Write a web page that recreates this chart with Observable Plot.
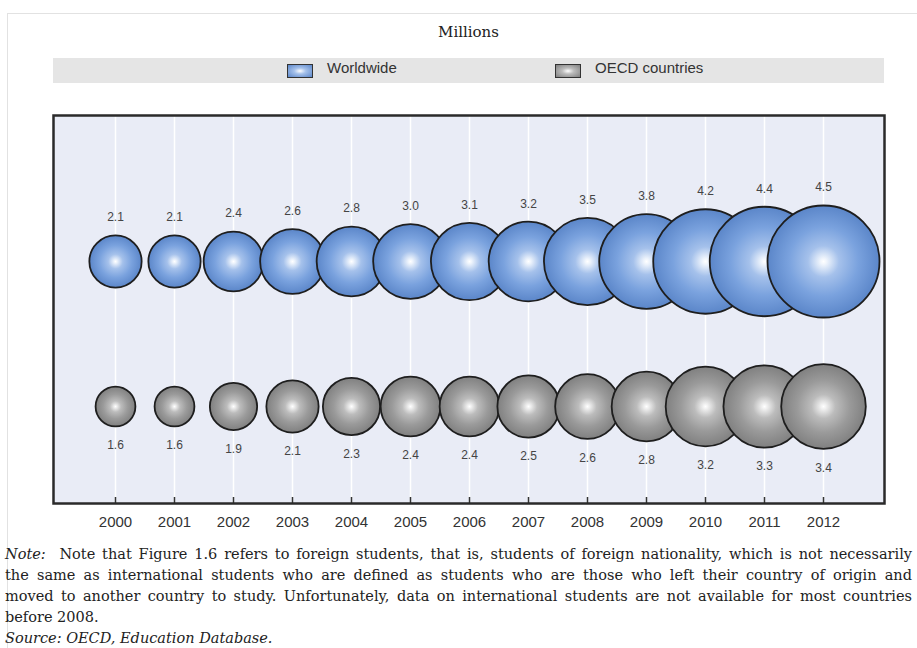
<!DOCTYPE html>
<html>
<head>
<meta charset="utf-8">
<script src="https://cdn.jsdelivr.net/npm/d3@7"></script>
<script src="https://cdn.jsdelivr.net/npm/@observablehq/plot@0.6"></script>
<style>
  html, body { margin: 0; padding: 0; background: #fff; }
  body { width: 917px; height: 648px; overflow: hidden; position: relative; font-family: "Liberation Sans", Arial, sans-serif; }
  #sheet { position: absolute; left: 7px; top: 13px; right: 0; bottom: 0; border-left: 1px solid #e2e2e2; border-top: 1px solid #e2e2e2; }
  #title { position: absolute; left: 53px; width: 831px; top: 23px; text-align: center; font: 15px "DejaVu Serif", serif; color: #222; }
  #legend { position: absolute; left: 53px; width: 831px; top: 58px; height: 25px; background: #e5e5e5; }
  .item { position: absolute; top: 0; height: 25px; display: flex; align-items: center; }
  .sw { width: 24px; height: 12px; border: 1px solid #333; }
  .lab { position: absolute; top: 1px; line-height: 25px; font: 15px "Liberation Sans", sans-serif; color: #333; }
  #chart { position: absolute; left: 0; top: 100px; }
  #note { position: absolute; left: 5px; width: 907px; top: 544px; font: 14.5px/21px "DejaVu Serif", serif; color: #222; white-space: nowrap; }
  #note div.j { text-align: justify; text-align-last: justify; }
  #note i { font-style: italic; }
</style>
</head>
<body>
<div id="sheet"></div>
<div id="title"></div>
<div id="legend"></div>
<div id="chart"></div>
<div id="note"></div>
<script>
// Foreign students enrolled in tertiary education, millions
const years = [2000, 2001, 2002, 2003, 2004, 2005, 2006, 2007, 2008, 2009, 2010, 2011, 2012];
const series = ["Worldwide", "OECD countries"];
const worldwide = [2.1, 2.1, 2.4, 2.6, 2.8, 3.0, 3.1, 3.2, 3.5, 3.8, 4.2, 4.4, 4.5];
const oecd = [1.6, 1.6, 1.9, 2.1, 2.3, 2.4, 2.4, 2.5, 2.6, 2.8, 3.2, 3.3, 3.4];
const unitLabel = "Millions";
const noteLines = [
  "Note that Figure 1.6 refers to foreign students, that is, students of foreign nationality, which is not necessarily",
  "the same as international students who are defined as students who are those who left their country of origin and",
  "moved to another country to study. Unfortunately, data on international students are not available for most countries",
  "before 2008."
];
const sourceLine = "Source:  OECD, Education Database.";

// Radial "sphere" shading for each series
const shading = {
  "Worldwide": {id: "bubbleBlue", stops: [[0, "#ffffff"], [0.06, "#eef4fc"], [0.28, "#a5c1eb"], [0.62, "#7aa2de"], [1, "#5b86c9"]]},
  "OECD countries": {id: "bubbleGray", stops: [[0, "#ffffff"], [0.06, "#f1f1f1"], [0.28, "#bcbcbc"], [0.62, "#9a9a9a"], [1, "#808080"]]}
};

const rows = years.flatMap((year, i) => [
  {year, series: series[0], value: worldwide[i]},
  {year, series: series[1], value: oecd[i]}
]);

document.getElementById("title").textContent = unitLabel;

// Legend
const legend = d3.select("#legend");
const legendPos = [[234, 274], [502, 542]];
series.forEach((s, i) => {
  const st = shading[s].stops;
  legend.append("div").attr("class", "item").style("left", legendPos[i][0] + "px")
    .append("div").attr("class", "sw")
    .style("background", `radial-gradient(ellipse at center, ${st[0][1]} 0%, ${st[2][1]} 35%, ${st[4][1]} 100%)`);
  legend.append("div").attr("class", "lab").style("left", legendPos[i][1] + "px").text(s);
});

// Gradient definitions used by the bubbles
const gradientDefs = () => {
  const defs = d3.create("svg:defs");
  for (const s of series) {
    const g = defs.append("radialGradient").attr("id", shading[s].id)
      .attr("cx", "50%").attr("cy", "50%").attr("r", "50%");
    for (const [o, c] of shading[s].stops) g.append("stop").attr("offset", o).attr("stop-color", c);
  }
  return defs.node();
};

// Value labels pushed off the bubble edge by its radius
function valueLabels(data, dir, gap) {
  return Plot.text(data, {
    x: "year", y: "series", text: d => d.value.toFixed(1),
    fontSize: 12, fill: "#444",
    render(index, scales, values, dims, ctx, next) {
      const y = Array.from(values.y, (v, i) => v + dir * (scales.r(data[i].value) + gap));
      return next(index, scales, {...values, y}, dims, ctx);
    }
  });
}

const chart = Plot.plot({
  width: 917, height: 440,
  marginTop: 15, marginBottom: 37, marginLeft: 53, marginRight: 33,
  style: {fontFamily: "'Liberation Sans', sans-serif", background: "transparent"},
  x: {type: "point", domain: years, padding: 1, label: null},
  y: {type: "point", domain: series, range: [161, 306], padding: 0, axis: null},
  r: {type: "linear", domain: [0, 4.5], range: [0, 56]},
  color: {domain: series, range: series.map(s => `url(#${shading[s].id})`)},
  marks: [
    gradientDefs,
    Plot.frame({fill: "#e9ecf6", stroke: null}),
    Plot.ruleX(years, {x: d => d, stroke: "#ffffff", strokeWidth: 1.5}),
    Plot.ruleX(years, {x: d => d, stroke: "#333", strokeWidth: 1.5, insetTop: 382}),
    Plot.dot(rows, {x: "year", y: "series", r: "value", fill: "series", stroke: "#1e1e1e", strokeWidth: 1.8, sort: null}),
    valueLabels(rows.filter(d => d.series === series[0]), -1, 18),
    valueLabels(rows.filter(d => d.series === series[1]), 1, 19),
    Plot.axisX({tickSize: 0, tickPadding: 13, tickFormat: d => String(d), fontSize: 15, fill: "#333", label: null}),
    Plot.frame({stroke: "#2a2a2a", strokeWidth: 2.5})
  ]
});
document.getElementById("chart").appendChild(chart);

// Note and source
const note = d3.select("#note");
noteLines.forEach((line, i) => {
  const div = note.append("div").attr("class", i < noteLines.length - 1 ? "j" : null);
  if (i === 0) { div.append("i").text("Note:"); div.append("span").text("\u00a0 " + line); }
  else div.text(line);
});
note.append("div").append("i").text(sourceLine);
</script>
</body>
</html>
